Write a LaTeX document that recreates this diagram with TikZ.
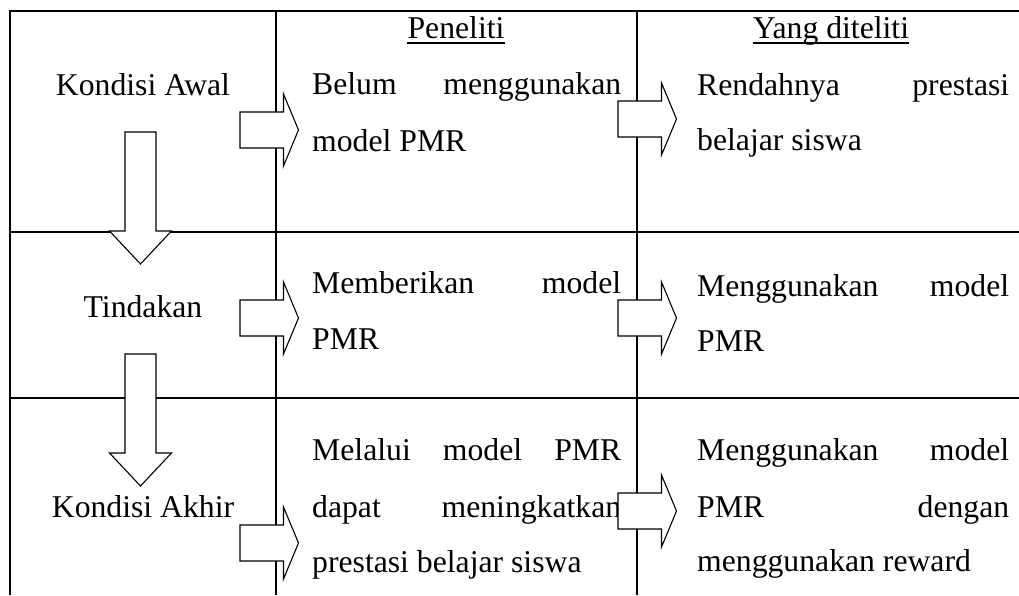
\documentclass[tikz,border=0pt]{standalone}
\usepackage{fontspec}
\setmainfont{Liberation Serif}
\newcommand\justline[2]{\makebox[#1][s]{#2}}
\begin{document}
\begin{tikzpicture}[x=1pt,y=-1pt,
  gridline/.style={line width=1.6pt},
  blockarrow/.style={draw=black, fill=white, line width=1.1pt, line join=miter},
  txt/.style={inner sep=0pt, font=\fontsize{31.7}{38}\selectfont},
  lbl/.style={txt, anchor=base},
  ln/.style={txt, anchor=base west},
  uline/.style={line width=1.4pt},
  rarrowpic/.pic={\path[blockarrow] (0,-18) -- (43.5,-18) -- (43.5,-36) -- (58.5,0) -- (43.5,36) -- (43.5,18) -- (0,18) -- cycle;},
  darrowpic/.pic={\path[blockarrow] (-15.5,0) -- (15.5,0) -- (15.5,99) -- (31,99) -- (0,132) -- (-31,99) -- (-15.5,99) -- cycle;}
]
\useasboundingbox (0,0) rectangle (1019,595);
\fill[white] (0,0) rectangle (1019,595);

% table lines
\coordinate (tl) at (10,11);
\coordinate (tr) at (1019,11);
\coordinate (bl) at (10,595);
\coordinate (c1t) at (276,11);
\coordinate (c1b) at (276,595);
\coordinate (c2t) at (637,11);
\coordinate (c2b) at (637,595);
\coordinate (r1l) at (10,232);
\coordinate (r1r) at (1019,232);
\coordinate (r2l) at (10,398);
\coordinate (r2r) at (1019,398);
\draw[gridline] (bl) -- (tl) -- (tr);
\draw[gridline] (c1t) -- (c1b);
\draw[gridline] (c2t) -- (c2b);
\draw[gridline] (r1l) -- (r1r);
\draw[gridline] (r2l) -- (r2r);

% headings
\node[lbl] (h1) at (456,38) {Peneliti};
\node[lbl] (h2) at (831,38) {Yang diteliti};
\draw[uline] ([yshift=-5pt]h1.base west) -- ([yshift=-5pt]h1.base east);
\draw[uline] ([yshift=-5pt]h2.base west) -- ([yshift=-5pt]h2.base east);

% column 1 labels
\node[lbl] (k1) at (143,95) {Kondisi Awal};
\node[lbl] (k2) at (143,317) {Tindakan};
\node[lbl] (k3) at (143,517) {Kondisi Akhir};

% column 2 texts
\node[ln] (p11) at (312,94) {\justline{309pt}{Belum menggunakan}};
\node[ln] (p12) at (312,151) {model PMR};
\node[ln] (p21) at (312,293) {\justline{309pt}{Memberikan model}};
\node[ln] (p22) at (312,349) {PMR};
\node[ln] (p31) at (312,460) {\justline{309pt}{Melalui model PMR}};
\node[ln] (p32) at (312,517) {\justline{309pt}{dapat meningkatkan}};
\node[ln] (p33) at (312,572) {prestasi belajar siswa};

% column 3 texts
\node[ln] (y11) at (697,95) {\justline{312pt}{Rendahnya prestasi}};
\node[ln] (y12) at (697,150) {belajar siswa};
\node[ln] (y21) at (697,296) {\justline{312pt}{Menggunakan model}};
\node[ln] (y22) at (697,351) {PMR};
\node[ln] (y31) at (697,460) {\justline{312pt}{Menggunakan model}};
\node[ln] (y32) at (697,517) {\justline{312pt}{PMR dengan}};
\node[ln] (y33) at (697,571) {menggunakan reward};

% block arrows
\pic (da1) at (140.5,132) {darrowpic};
\pic (da2) at (140.5,354) {darrowpic};
\pic (ra11) at (240,130) {rarrowpic};
\pic (ra21) at (240,318) {rarrowpic};
\pic (ra31) at (240,543) {rarrowpic};
\pic (ra12) at (618,119) {rarrowpic};
\pic (ra22) at (618,318) {rarrowpic};
\pic (ra32) at (618,511) {rarrowpic};
\end{tikzpicture}
\end{document}
